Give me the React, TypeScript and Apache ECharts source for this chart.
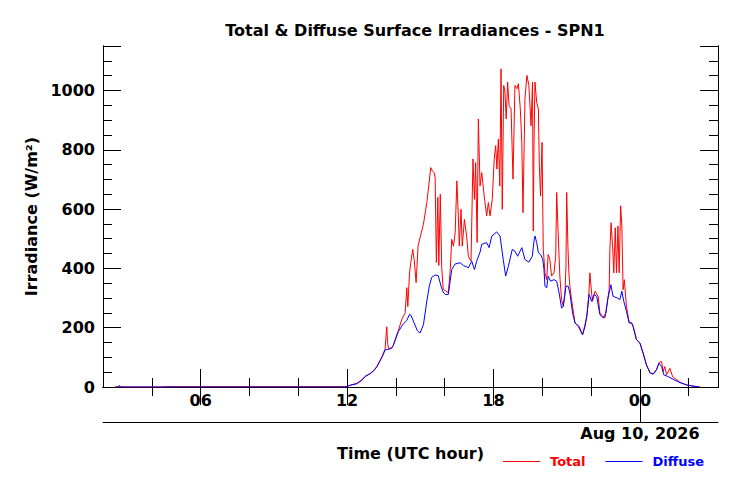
import React, { useEffect, useRef } from 'react';
import * as echarts from 'echarts';

type Point = [number, number];

// hours since 00 UTC of the previous day (24 = 00 on Aug 10), W/m2
const totalPoints: Point[] = [
  [2.5, 0], [2.62, 0], [2.67, 5], [2.72, 0], [4.45, 0], [4.5, 1], [11.9, 1],
  [12.0, 2], [12.13, 6], [12.4, 12], [12.6, 24], [12.74, 36], [12.95, 46], [13.1, 56],
  [13.22, 69], [13.43, 102], [13.56, 128], [13.6, 175], [13.63, 203], [13.66, 150],
  [13.7, 130], [13.82, 132], [13.89, 140], [14.1, 190], [14.24, 227], [14.38, 250],
  [14.45, 335], [14.49, 271], [14.56, 385], [14.61, 419], [14.69, 464], [14.75, 430],
  [14.83, 352], [14.91, 475], [14.99, 503], [15.13, 549], [15.27, 622], [15.43, 740],
  [15.5, 728], [15.57, 723], [15.61, 705], [15.66, 420], [15.72, 640], [15.76, 410],
  [15.82, 650], [15.88, 400], [15.94, 330], [16.02, 325], [16.15, 318], [16.23, 396],
  [16.29, 498], [16.36, 475], [16.43, 520], [16.5, 695], [16.56, 577], [16.6, 475],
  [16.67, 599], [16.72, 475], [16.81, 565], [16.9, 509], [16.97, 441], [17.08, 424],
  [17.16, 769], [17.22, 633], [17.27, 757], [17.33, 487], [17.38, 904], [17.45, 678],
  [17.52, 723], [17.62, 644], [17.72, 577], [17.79, 622], [17.86, 577], [17.95, 633],
  [18.03, 769], [18.09, 814], [18.14, 735], [18.2, 836], [18.26, 678], [18.31, 1073],
  [18.36, 599], [18.42, 1017], [18.47, 994], [18.52, 904], [18.58, 1028], [18.64, 949],
  [18.72, 938], [18.8, 701], [18.88, 1017], [18.96, 1006], [19.02, 1023], [19.1, 938],
  [19.16, 825], [19.21, 588], [19.29, 972], [19.37, 1051], [19.45, 1017], [19.54, 881],
  [19.6, 1028], [19.63, 526], [19.66, 814], [19.7, 1028], [19.77, 960], [19.84, 938],
  [19.88, 746], [19.93, 644], [19.99, 825], [20.04, 464], [20.11, 385], [20.18, 362],
  [20.24, 447], [20.31, 430], [20.38, 374], [20.48, 385], [20.55, 441], [20.59, 656],
  [20.65, 520], [20.72, 374], [20.79, 295], [20.86, 272], [20.93, 317], [20.97, 407],
  [21.0, 656], [21.05, 475], [21.09, 385], [21.13, 340], [21.2, 295], [21.34, 216],
  [21.47, 204], [21.65, 176], [21.82, 233], [21.91, 317], [21.95, 385], [22.02, 317],
  [22.06, 289], [22.16, 323], [22.29, 306], [22.36, 250], [22.47, 238], [22.57, 233],
  [22.66, 283], [22.74, 328], [22.77, 464], [22.82, 554], [22.88, 475], [22.93, 385],
  [22.99, 537], [23.04, 385], [23.1, 543], [23.15, 385], [23.21, 611], [23.26, 543],
  [23.31, 328], [23.36, 362], [23.45, 272], [23.56, 218], [23.66, 216], [23.72, 206],
  [23.86, 160], [24.0, 149], [24.13, 115], [24.27, 75], [24.41, 49], [24.54, 44],
  [24.68, 59], [24.78, 82], [24.89, 86], [24.95, 52], [25.02, 69], [25.09, 41],
  [25.23, 63], [25.34, 35], [25.64, 16], [25.91, 7], [26.18, 3], [26.45, 0],
];

const diffusePoints: Point[] = [
  [2.5, 0], [2.62, 0], [2.67, 5], [2.72, 0], [11.9, 0],
  [12.0, 2], [12.13, 6], [12.4, 11], [12.6, 22], [12.74, 35], [12.95, 45], [13.1, 55],
  [13.22, 68], [13.43, 100], [13.56, 125], [13.7, 127], [13.82, 130], [13.89, 139],
  [14.1, 187], [14.3, 212], [14.45, 225], [14.56, 245], [14.62, 242], [14.75, 216],
  [14.88, 190], [14.99, 182], [15.13, 210], [15.27, 290], [15.37, 340], [15.47, 370],
  [15.61, 378], [15.74, 375], [15.85, 340], [15.94, 320], [16.02, 312], [16.15, 312],
  [16.29, 396], [16.43, 415], [16.63, 419], [16.77, 410], [16.97, 402], [17.11, 424],
  [17.22, 396], [17.31, 424], [17.45, 455], [17.52, 481], [17.72, 487], [17.82, 470],
  [17.93, 509], [18.13, 523], [18.27, 509], [18.4, 430], [18.5, 374], [18.61, 407],
  [18.77, 464], [18.88, 458], [18.99, 441], [19.16, 470], [19.29, 430], [19.45, 421],
  [19.59, 441], [19.67, 498], [19.7, 509], [19.77, 487], [19.84, 453], [19.93, 447],
  [20.02, 430], [20.07, 396], [20.11, 340], [20.18, 334], [20.24, 374], [20.34, 357],
  [20.48, 362], [20.59, 357], [20.69, 317], [20.79, 266], [20.86, 272], [20.97, 340],
  [21.06, 340], [21.13, 317], [21.24, 250], [21.34, 216], [21.51, 204], [21.65, 176],
  [21.75, 204], [21.84, 250], [21.92, 312], [22.02, 289], [22.12, 312], [22.23, 306],
  [22.36, 244], [22.5, 233], [22.61, 250], [22.68, 295], [22.81, 345], [22.9, 306],
  [23.07, 300], [23.18, 295], [23.26, 323], [23.34, 289], [23.45, 255], [23.56, 216],
  [23.66, 216], [23.72, 204], [23.86, 159], [24.0, 148], [24.13, 114], [24.27, 74],
  [24.41, 48], [24.54, 43], [24.68, 58], [24.78, 80], [24.89, 69], [24.98, 41],
  [25.16, 35], [25.36, 26], [25.64, 15], [25.91, 7], [26.18, 3], [26.45, 0],
];

const majorHours = [6, 12, 18, 24];
const minorHours = [4, 8, 10, 14, 16, 20, 22, 26];
const dateHours = [24];
const dateLabel = 'Aug 10, 2026';
const titleText = 'Total & Diffuse Surface Irradiances - SPN1';
const xName = 'Time (UTC hour)';
const yName = 'Irradiance (W/m²)';

const FONT = 'DejaVu Sans';
const INK = '#000';

function hourLabel(v: number): string {
  return String(Math.round(v) % 24).padStart(2, '0');
}

export default function App() {
  const chartRef = useRef<HTMLDivElement | null>(null);

  useEffect(() => {
    if (!chartRef.current) return;
    const inst = echarts.init(chartRef.current, undefined, { renderer: 'svg' });

    const xBase = {
      type: 'value' as const,
      min: 2,
      max: 27.2,
      splitLine: { show: false },
      axisLine: { show: true, lineStyle: { color: INK, width: 1 } },
      axisLabel: { show: false },
    };
    const yBase = {
      type: 'value' as const,
      min: 0,
      max: 1150,
      splitLine: { show: false },
      axisLine: { show: true, lineStyle: { color: INK, width: 1 } },
      axisLabel: { show: false },
    };

    inst.setOption({
      animation: false,
      backgroundColor: '#fff',
      textStyle: { fontFamily: FONT },
      title: {
        text: titleText,
        left: 410,
        top: 17,
        textAlign: 'center',
        textStyle: { fontFamily: FONT, fontSize: 16, fontWeight: 'bold', color: INK },
      },
      grid: { left: 103, right: 22, top: 46, bottom: 101 },
      legend: {
        left: 503,
        top: 455,
        padding: 0,
        icon: 'rect',
        itemWidth: 37,
        itemHeight: 1,
        itemGap: 20,
        textStyle: { fontFamily: FONT, fontSize: 13, fontWeight: 'bold', padding: [0, 0, 0, 5] },
        data: [
          { name: 'Total', textStyle: { color: '#ff0000' } },
          { name: 'Diffuse', textStyle: { color: '#0000ff' } },
        ],
      },
      xAxis: [
        {
          ...xBase,
          position: 'bottom',
          axisTick: { show: true, inside: true, length: 18, customValues: majorHours, lineStyle: { color: INK } },
          axisLabel: {
            show: true,
            customValues: majorHours,
            formatter: (v: number) => hourLabel(v),
            fontFamily: FONT,
            fontSize: 16,
            fontWeight: 'bold',
            color: INK,
            margin: 5,
          },
        },
        {
          ...xBase,
          position: 'bottom',
          axisTick: { show: true, inside: true, length: 9, customValues: minorHours, lineStyle: { color: INK } },
        },
        {
          ...xBase,
          position: 'top',
          axisTick: { show: true, inside: true, length: 18, customValues: majorHours, lineStyle: { color: INK } },
        },
        {
          ...xBase,
          position: 'top',
          axisTick: { show: true, inside: true, length: 9, customValues: minorHours, lineStyle: { color: INK } },
        },
        {
          ...xBase,
          position: 'bottom',
          offset: 35,
          axisTick: { show: true, inside: true, length: 17, customValues: dateHours, lineStyle: { color: INK } },
          axisLabel: {
            show: true,
            customValues: dateHours,
            formatter: () => dateLabel,
            fontFamily: FONT,
            fontSize: 16,
            fontWeight: 'bold',
            color: INK,
            margin: 3,
          },
          name: xName,
          nameLocation: 'middle',
          nameGap: 22,
          nameTextStyle: { fontFamily: FONT, fontSize: 16, fontWeight: 'bold', color: INK },
        },
      ],
      yAxis: [
        {
          ...yBase,
          position: 'left',
          interval: 200,
          axisTick: { show: true, inside: true, length: 18, lineStyle: { color: INK } },
          axisLabel: {
            show: true,
            formatter: (v: number) => (v % 200 === 0 ? String(v) : ''),
            fontFamily: FONT,
            fontSize: 16,
            fontWeight: 'bold',
            color: INK,
            margin: 8,
          },
          name: yName,
          nameLocation: 'middle',
          nameGap: 61,
          nameTextStyle: { fontFamily: FONT, fontSize: 16, fontWeight: 'bold', color: INK },
        },
        {
          ...yBase,
          position: 'left',
          interval: 50,
          axisTick: { show: true, inside: true, length: 9, lineStyle: { color: INK } },
        },
        {
          ...yBase,
          position: 'right',
          interval: 200,
          axisTick: { show: true, inside: true, length: 18, lineStyle: { color: INK } },
        },
        {
          ...yBase,
          position: 'right',
          interval: 50,
          axisTick: { show: true, inside: true, length: 9, lineStyle: { color: INK } },
        },
      ],
      series: [
        {
          name: 'Total',
          type: 'line',
          data: totalPoints,
          symbol: 'none',
          color: '#ff0000',
          lineStyle: { width: 1, color: '#ff0000' },
          z: 2,
        },
        {
          name: 'Diffuse',
          type: 'line',
          data: diffusePoints,
          symbol: 'none',
          color: '#0000ff',
          lineStyle: { width: 1, color: '#0000ff' },
          z: 3,
        },
      ],
    });

    return () => {
      inst.dispose();
    };
  }, []);

  return (
    <div
      ref={chartRef}
      style={{ position: 'absolute', left: 0, top: 0, width: 740, height: 488, background: '#fff' }}
    />
  );
}
